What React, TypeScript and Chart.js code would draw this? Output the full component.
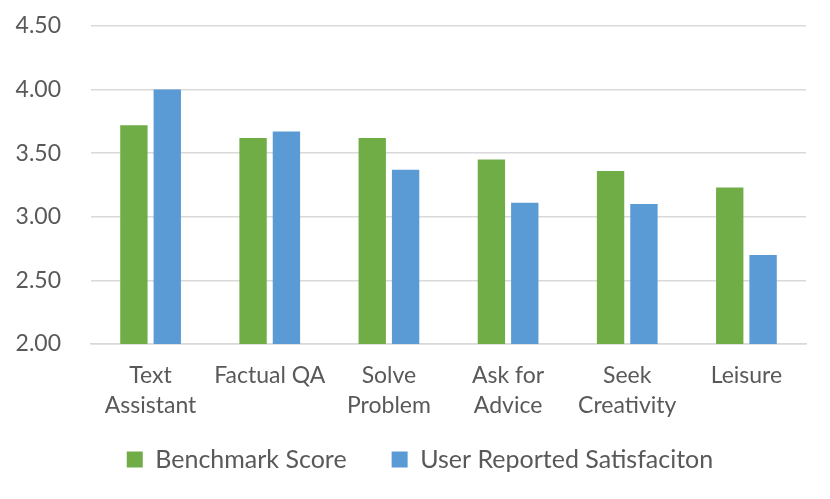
import React, { useEffect, useRef } from "react";
import Chart from "chart.js/auto";

const categories: string[][] = [
  ["Text", "Assistant"],
  ["Factual QA"],
  ["Solve", "Problem"],
  ["Ask for", "Advice"],
  ["Seek", "Creativity"],
  ["Leisure"],
];
const benchmarkScore = [3.72, 3.62, 3.62, 3.45, 3.36, 3.23];
const userSatisfaction = [4.0, 3.67, 3.37, 3.11, 3.1, 2.7];
const yTicks = [2.0, 2.5, 3.0, 3.5, 4.0, 4.5];

const FONT = "Lato, 'Noto Sans', sans-serif";
const TEXT = "#595959";

// nudge the legend so it sits where the original one does
const shiftLegend = {
  id: "shiftLegend",
  afterLayout(chart: any) {
    const lg = chart.legend;
    if (!lg) return;
    lg.left += 17;
    lg.right += 17;
    lg.top -= 17;
    lg.bottom -= 17;
  },
};

const App: React.FC = () => {
  const chartRef = useRef<HTMLCanvasElement | null>(null);

  useEffect(() => {
    if (!chartRef.current) return;
    const myChart = new Chart(chartRef.current, {
      type: "bar",
      data: {
        labels: categories,
        datasets: [
          {
            label: "Benchmark Score",
            data: benchmarkScore,
            backgroundColor: "#70AD47",
            categoryPercentage: 0.56,
            barPercentage: 0.82,
          },
          {
            label: "User Reported Satisfaciton",
            data: userSatisfaction,
            backgroundColor: "#5B9BD5",
            categoryPercentage: 0.56,
            barPercentage: 0.82,
          },
        ],
      },
      options: {
        animation: false,
        responsive: true,
        maintainAspectRatio: false,
        layout: { padding: { left: 0, right: 24, top: 26, bottom: 0 } },
        plugins: {
          tooltip: { enabled: false },
          legend: {
            position: "bottom",
            labels: {
              boxWidth: 16,
              boxHeight: 16,
              padding: 45,
              color: TEXT,
              font: { family: FONT, size: 25 },
            },
          },
        },
        scales: {
          x: {
            afterFit: (axis) => {
              axis.height = 75;
            },
            grid: { display: false, drawTicks: false },
            border: { color: "#d9d9d9", width: 1.5 },
            ticks: {
              color: TEXT,
              padding: 17,
              maxRotation: 0,
              autoSkip: false,
              font: { family: FONT, size: 23, lineHeight: 1.3 },
            },
          },
          y: {
            min: 2,
            max: 4.5,
            afterBuildTicks: (axis) => {
              axis.ticks = yTicks.map((v) => ({ value: v }));
            },
            afterFit: (axis) => {
              axis.width = 91;
              axis.paddingTop = 0;
              axis.paddingBottom = 0;
            },
            grid: { color: "#d9d9d9", lineWidth: 1.5, drawTicks: false },
            border: { display: false },
            ticks: {
              color: TEXT,
              padding: 30,
              font: { family: FONT, size: 23 },
              callback: (v) => Number(v).toFixed(2),
            },
          },
        },
      },
      plugins: [shiftLegend],
    });
    return () => {
      myChart.destroy();
    };
  }, []);

  return (
    <div style={{ position: "fixed", left: 0, top: 0, width: 830, height: 499, background: "#fff" }}>
      <canvas ref={chartRef} />
    </div>
  );
};

export default App;
